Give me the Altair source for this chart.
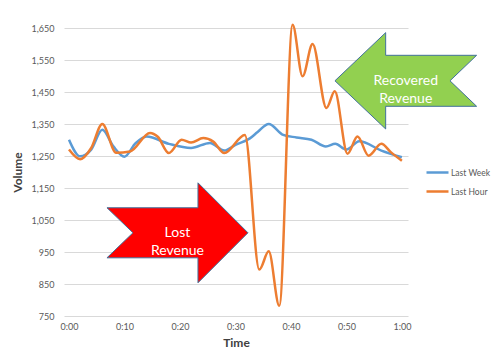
import altair as alt
import pandas as pd

# ---- data ----
hour_min = [0, 2, 4, 6, 8.5, 11, 14.6, 16, 18, 20.3, 22, 24.2, 26, 28, 31.7, 34.3, 36, 37.9,
            40.3, 42.1, 43.9, 46.4, 47.9, 50.2, 52, 54, 56.3, 58, 60]
hour_val = [1270, 1240, 1275, 1350, 1260, 1264, 1322, 1310, 1259, 1301, 1292, 1306, 1295, 1259,
            1316, 895, 952, 782, 1660, 1499, 1600, 1400, 1452, 1257, 1311, 1251, 1288, 1262, 1235]

week_min = [0, 2, 4, 6, 8, 10, 12, 14, 18, 22, 25.4, 28, 30, 32.6, 34, 36, 38.6, 41, 43.7,
            46.3, 48, 50, 52.3, 56.3, 60]
week_val = [1301, 1249, 1270, 1332, 1280, 1248, 1290, 1311, 1288, 1275, 1291, 1267, 1285, 1305,
            1325, 1350, 1316, 1308, 1301, 1280, 1288, 1270, 1296, 1267, 1246]

series_names = ["Last Week", "Last Hour"]
series_colors = ["#5B9BD5", "#ED7D31"]

y_ticks = [750, 850, 950, 1050, 1150, 1250, 1350, 1450, 1550, 1650]
x_ticks = [0, 10, 20, 30, 40, 50, 60]

# annotation arrows (center in data units) and their labels
lost_pos = [19.55, 1010]
recovered_pos = [60.7, 1485]

FONT = "Lato"

df = pd.concat([
    pd.DataFrame({"series": "Last Week", "minute": week_min, "value": week_val}),
    pd.DataFrame({"series": "Last Hour", "minute": hour_min, "value": hour_val}),
])

x_scale = alt.Scale(domain=[-0.9, 61.1], nice=False, zero=False)
y_scale = alt.Scale(domain=[750, 1650], nice=False, zero=False)

x_axis = alt.Axis(values=x_ticks, grid=False, domain=False, ticks=False,
                  labelExpr="datum.value == 60 ? '1:00' : (datum.value == 0 ? '0:00' : '0:' + datum.value)",
                  labelPadding=6, title="Time", titlePadding=6)
y_axis = alt.Axis(values=y_ticks, format=",.0f", grid=True, domain=False, ticks=False,
                  labelOverlap=False, labelPadding=10, title="Volume", titlePadding=7)

ax = alt.X("minute:Q", scale=x_scale, axis=x_axis)
ay = alt.Y("value:Q", scale=y_scale, axis=y_axis)

lines = alt.Chart(df).mark_line(interpolate="monotone", strokeWidth=2.5).encode(
    x=ax, y=ay,
    color=alt.Color("series:N",
                    scale=alt.Scale(domain=series_names, range=series_colors),
                    legend=alt.Legend(title=None, orient="none", legendX=361, legendY=135,
                                      symbolType="stroke", symbolSize=484, symbolStrokeWidth=2.5,
                                      labelFontSize=8.5, labelColor="#595959", labelFont=FONT,
                                      labelOffset=1, rowPadding=0, clipHeight=19, padding=0)),
    order=alt.Order("minute:Q"),
)

red_path = "M-1,-0.355 L0.291,-0.355 L0.291,-0.709 L1,0 L0.291,0.709 L0.291,0.355 L-1,0.355 L-0.631,0 Z"
green_path = "M-1,0 L-0.284,-0.68 L-0.284,-0.36 L1,-0.36 L0.624,0 L1,0.36 L-0.284,0.36 L-0.284,0.68 Z"

lost_df = pd.DataFrame({"minute": [lost_pos[0]], "value": [lost_pos[1]]})
rec_df = pd.DataFrame({"minute": [recovered_pos[0]], "value": [recovered_pos[1]]})

red_arrow = alt.Chart(lost_df).mark_point(shape=red_path, filled=True, size=19881, fill="#FF0000",
                                           stroke="#41719C", strokeWidth=1, opacity=1).encode(x=ax, y=ay)
green_arrow = alt.Chart(rec_df).mark_point(shape=green_path, filled=True, size=20070, fill="#92D050",
                                            stroke="#41719C", strokeWidth=1, opacity=1).encode(x=ax, y=ay)

lost_text = alt.Chart(lost_df).mark_text(text=["Lost", "Revenue"], color="white", fontSize=14,
                                          font=FONT, lineHeight=18, baseline="middle", align="center").encode(x=ax, y=ay)
rec_text = alt.Chart(rec_df).mark_text(text=["Recovered", "Revenue"], color="white", fontSize=14,
                                        font=FONT, lineHeight=18, baseline="middle", align="center").encode(x=ax, y=ay)

chart = alt.layer(lines, red_arrow, green_arrow, lost_text, rec_text).properties(
    width=344, height=288,
    autosize=alt.AutoSizeParams(type="none"),
    padding={"left": 56, "top": 20, "right": 84, "bottom": 34},
).configure_view(stroke=None).configure_axis(
    labelFont=FONT, labelFontSize=9, labelColor="#595959",
    titleFont=FONT, titleFontSize=12, titleFontWeight="bold", titleColor="#404040",
    gridColor="#D9D9D9", gridWidth=1,
)

chart.save("out.html", embed_options={"renderer": "svg", "actions": False})
